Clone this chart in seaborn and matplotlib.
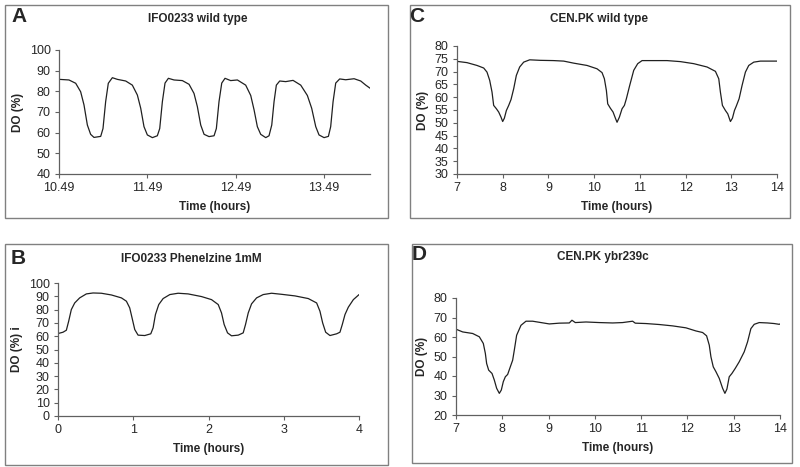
import pandas as pd
import seaborn as sns
import matplotlib.pyplot as plt
from matplotlib.patches import Rectangle

"""
1. Data read off the four DO traces
"""
# A - IFO0233 wild type
time_a = [10.49, 10.603, 10.679, 10.735, 10.773, 10.811, 10.848, 10.886, 10.962, 10.988,
          11.018, 11.048, 11.094, 11.150, 11.245, 11.320, 11.377, 11.415, 11.452, 11.490,
          11.547, 11.603, 11.630, 11.660, 11.690, 11.728, 11.792, 11.886, 11.962, 12.018,
          12.056, 12.094, 12.132, 12.188, 12.245, 12.271, 12.301, 12.332, 12.369, 12.433,
          12.509, 12.603, 12.660, 12.698, 12.735, 12.773, 12.830, 12.867, 12.898, 12.924,
          12.950, 12.988, 13.056, 13.139, 13.226, 13.301, 13.350, 13.396, 13.433, 13.490,
          13.539, 13.565, 13.592, 13.622, 13.667, 13.735, 13.830, 13.905, 13.962, 14.011]
do_a = [85.8, 85.5, 83.9, 79.8, 73.4, 63.7, 59.2, 57.7, 58.2, 62.0,
        75.0, 83.9, 86.6, 85.8, 85.0, 83.0, 78.2, 71.8, 62.9, 58.9,
        57.6, 58.5, 62.0, 75.0, 84.0, 86.3, 85.5, 85.2, 83.4, 79.0,
        72.6, 63.7, 59.2, 58.1, 58.5, 62.0, 75.0, 84.0, 86.3, 85.2,
        85.5, 83.0, 78.0, 71.0, 62.9, 59.2, 57.6, 58.5, 63.7, 75.0,
        83.0, 85.0, 84.7, 85.3, 83.0, 78.0, 71.8, 62.9, 58.9, 57.6,
        58.2, 62.9, 75.0, 84.0, 86.0, 85.6, 86.1, 85.0, 83.0, 81.5]

# B - IFO0233 Phenelzine 1mM
time_b = [0.0, 0.067, 0.111, 0.142, 0.177, 0.222, 0.288, 0.377, 0.466, 0.576,
          0.710, 0.843, 0.909, 0.953, 0.984, 1.020, 1.064, 1.153, 1.233, 1.264,
          1.295, 1.339, 1.397, 1.486, 1.596, 1.729, 1.907, 2.040, 2.129, 2.173,
          2.208, 2.253, 2.306, 2.395, 2.461, 2.492, 2.528, 2.572, 2.639, 2.727,
          2.838, 2.971, 3.149, 3.326, 3.437, 3.481, 3.517, 3.557, 3.614, 3.703,
          3.747, 3.778, 3.814, 3.858, 3.925, 3.991, 4.0]
do_b = [62.0, 63.0, 64.5, 71.3, 80.0, 85.0, 88.8, 91.8, 92.5, 92.3,
        91.0, 88.8, 86.3, 81.3, 73.8, 65.0, 60.8, 60.5, 61.8, 66.3,
        76.3, 83.8, 88.3, 91.3, 92.3, 91.8, 89.8, 87.5, 83.8, 77.5,
        68.8, 62.5, 60.3, 60.8, 62.5, 68.8, 77.5, 84.3, 88.8, 91.3,
        92.3, 91.5, 90.3, 88.3, 85.0, 78.8, 70.0, 63.0, 60.5, 61.8,
        63.0, 68.8, 76.3, 81.8, 87.5, 90.8, 91.3]

# C - CEN.PK wild type
time_c = [7.000, 7.219, 7.438, 7.584, 7.656, 7.715, 7.766, 7.802, 7.861, 7.912,
          7.963, 7.999, 8.036, 8.080, 8.131, 8.182, 8.240, 8.298, 8.371, 8.459,
          8.590, 8.823, 9.115, 9.334, 9.553, 9.845, 10.063, 10.173, 10.224, 10.268,
          10.297, 10.355, 10.414, 10.465, 10.501, 10.552, 10.611, 10.662, 10.705, 10.778,
          10.866, 10.953, 11.048, 11.303, 11.595, 11.887, 12.179, 12.470, 12.653, 12.726,
          12.762, 12.806, 12.872, 12.923, 12.981, 13.025, 13.069, 13.109, 13.171, 13.236,
          13.309, 13.382, 13.492, 13.638, 13.820, 14.0]
do_c = [74.0, 73.5, 72.4, 71.4, 69.8, 66.6, 62.0, 56.8, 55.5, 54.2,
        52.2, 50.5, 51.8, 54.8, 56.8, 59.1, 63.3, 68.5, 71.8, 73.7,
        74.6, 74.4, 74.3, 74.1, 73.3, 72.4, 71.1, 69.6, 67.2, 62.6,
        57.4, 55.7, 54.2, 51.8, 50.2, 52.2, 55.5, 56.8, 59.4, 64.6,
        70.5, 73.1, 74.3, 74.3, 74.3, 73.9, 73.1, 71.8, 70.1, 67.2,
        62.0, 56.8, 54.8, 53.5, 50.5, 51.8, 54.8, 56.5, 59.4, 64.6,
        69.8, 72.4, 73.7, 74.1, 74.1, 74.1]

# D - CEN.PK ybr239c
time_d = [7.000, 7.144, 7.360, 7.504, 7.590, 7.634, 7.662, 7.706, 7.778, 7.828,
          7.878, 7.936, 7.979, 8.022, 8.066, 8.116, 8.166, 8.224, 8.260, 8.310,
          8.404, 8.512, 8.656, 8.836, 9.016, 9.232, 9.448, 9.505, 9.577, 9.808,
          10.096, 10.384, 10.600, 10.816, 10.873, 11.104, 11.392, 11.680, 11.968, 12.184,
          12.328, 12.414, 12.472, 12.508, 12.558, 12.616, 12.687, 12.760, 12.810, 12.853,
          12.903, 12.961, 13.033, 13.119, 13.227, 13.299, 13.371, 13.443, 13.551, 13.731,
          13.875, 13.983, 14.0]
do_d = [64.0, 62.6, 61.8, 60.1, 56.7, 51.6, 46.4, 43.0, 41.3, 37.9,
        33.7, 31.1, 32.8, 37.1, 39.6, 40.8, 44.2, 48.1, 53.3, 60.9,
        66.0, 68.1, 68.1, 67.4, 66.7, 67.1, 67.2, 68.6, 67.4, 67.7,
        67.4, 67.2, 67.4, 68.1, 67.1, 66.9, 66.4, 65.7, 64.7, 63.1,
        62.3, 60.6, 55.8, 49.8, 44.7, 42.2, 38.8, 33.7, 31.1, 33.3,
        39.6, 41.3, 43.9, 47.3, 52.4, 57.5, 64.3, 66.5, 67.4, 67.2,
        66.9, 66.5, 66.7]

"""
2. Layout (pixels on the 800x467 canvas)
"""
W, H = 800, 467
sns.set_style("white")
plt.rcParams['font.family'] = ['Liberation Sans', 'DejaVu Sans']

fig = plt.figure(figsize=(8, 4.67), dpi=100)


def px_box(x0, y0, x1, y1):
    return [x0 / W, 1 - y1 / H, (x1 - x0) / W, (y1 - y0) / H]


def frame(x0, y0, x1, y1):
    fig.patches.append(Rectangle((x0 / W, 1 - y1 / H), (x1 - x0) / W, (y1 - y0) / H,
                                 transform=fig.transFigure, fill=False,
                                 edgecolor='#808080', linewidth=1.0))


def panel(box, t, v, xlim, ylim, yticks, xticks, xticklabels,
          title, ylabel, letter, letter_xy, title_xy):
    ax = fig.add_axes(px_box(*box))
    df = pd.DataFrame({'t': t, 'v': v})
    sns.lineplot(data=df, x='t', y='v', ax=ax, color='#202020', linewidth=0.9)
    ax.set_xlim(*xlim)
    ax.set_ylim(*ylim)
    ax.set_yticks(yticks)
    ax.set_xticks(xticks)
    ax.set_xticklabels(xticklabels)
    ax.set_facecolor('none')
    for s in ['top', 'right']:
        ax.spines[s].set_visible(False)
    for s in ['left', 'bottom']:
        ax.spines[s].set_color('#606060')
        ax.spines[s].set_linewidth(0.9)
    ax.tick_params(direction='out', length=3, width=0.8, color='#606060',
                   labelsize=9, pad=3, left=True, bottom=True)
    ax.set_xlabel('Time (hours)', fontsize=8.5, fontweight='bold', labelpad=5)
    ax.set_ylabel(ylabel, fontsize=8.5, fontweight='bold', labelpad=4)
    fig.text(title_xy[0] / W, 1 - title_xy[1] / H, title, ha='center', va='center',
             fontsize=8.5, fontweight='bold')
    fig.text(letter_xy[0] / W, 1 - letter_xy[1] / H, letter, ha='left', va='center',
             fontsize=15, fontweight='bold')
    return ax


frame(5, 5, 388, 218)
frame(410, 5, 790, 218)
frame(5, 244, 388, 465)
frame(412, 244, 792, 463)

panel((59, 50, 370, 174), time_a, do_a, (10.49, 14.01), (40, 100),
      range(40, 101, 10), [10.49, 11.49, 12.49, 13.49],
      ['10.49', '11.49', '12.49', '13.49'],
      'IFO0233 wild type', 'DO (%)', 'A', (11, 17), (198, 19))

panel((457, 46, 777, 174), time_c, do_c, (7, 14), (30, 80),
      range(30, 81, 5), range(7, 15), [str(i) for i in range(7, 15)],
      'CEN.PK wild type', 'DO (%)', 'C', (409, 17), (599, 19))

panel((58, 283, 359, 416), time_b, do_b, (0, 4), (0, 100),
      range(0, 101, 10), range(0, 5), [str(i) for i in range(0, 5)],
      'IFO0233 Phenelzine 1mM', 'DO (%) i', 'B', (11, 258), (191, 259))

panel((456, 298, 780, 415), time_d, do_d, (7, 14), (20, 80),
      range(20, 81, 10), range(7, 15), [str(i) for i in range(7, 15)],
      'CEN.PK ybr239c', 'DO (%)', 'D', (412, 255), (603, 257))

fig.savefig('out.png', dpi=100)
